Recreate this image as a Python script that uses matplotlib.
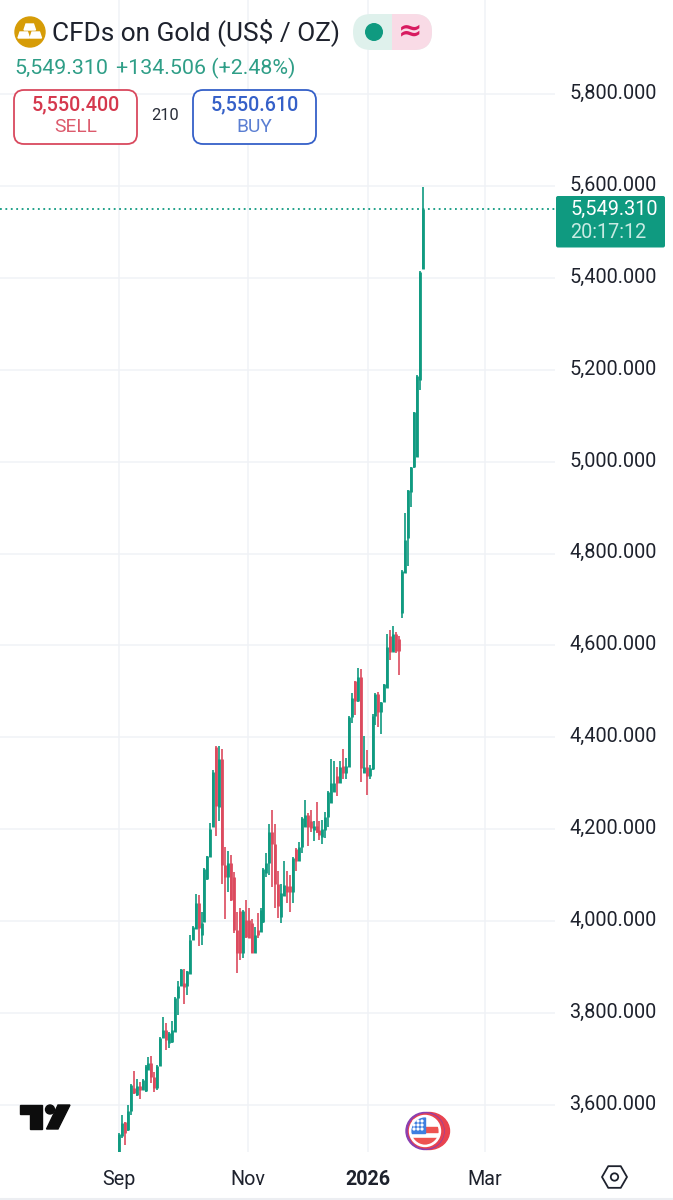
import matplotlib
matplotlib.use("Agg")
import matplotlib.pyplot as plt
from matplotlib.patches import Circle, Ellipse, FancyBboxPatch, Polygon, Rectangle
from matplotlib.transforms import ScaledTranslation
import numpy as np

plt.rcParams['font.family'] = ['Roboto', 'DejaVu Sans']

# daily candles, Sep 2025 onwards
opens = [3497, 3532, 3562, 3545, 3586, 3637, 3622, 3642, 3633, 3630,
         3677, 3691, 3662, 3637, 3684, 3746, 3764, 3735, 3738, 3758,
         3833, 3858, 3865, 3858, 3886, 3960, 3984, 4040, 3971, 3999,
         4092, 4140, 4206, 4380, 4249, 4354, 4122, 4097, 4126, 4097,
         3981, 4022, 3930, 4003, 4003, 3995, 3930, 3981, 3977, 3999,
         4104, 4126, 4195, 4169, 4082, 4010, 4055, 4077, 4077, 4064,
         4158, 4130, 4162, 4206, 4231, 4217, 4198, 4207, 4198, 4184,
         4198, 4227, 4258, 4282, 4316, 4301, 4337, 4322, 4336, 4445,
         4522, 4480, 4532, 4323, 4336, 4316, 4331, 4447, 4494, 4456,
         4478, 4507, 4620, 4586, 4626, 4615, 4670, 4757, 4833, 4935,
         4988, 5011, 5178, 5419]
highs = [3539, 3578, 3564, 3599, 3646, 3675, 3657, 3650, 3657, 3686,
         3704, 3707, 3671, 3686, 3748, 3791, 3778, 3758, 3782, 3834,
         3869, 3896, 3897, 3891, 3971, 3989, 4059, 4058, 4021, 4115,
         4142, 4214, 4329, 4381, 4381, 4374, 4161, 4153, 4144, 4108,
         4019, 4029, 4024, 4046, 4028, 4004, 3988, 4018, 4028, 4115,
         4148, 4211, 4243, 4211, 4109, 4082, 4132, 4110, 4100, 4139,
         4159, 4172, 4226, 4264, 4235, 4241, 4218, 4260, 4218, 4220,
         4237, 4284, 4352, 4349, 4335, 4349, 4374, 4355, 4447, 4497,
         4523, 4550, 4548, 4402, 4373, 4340, 4452, 4496, 4499, 4478,
         4516, 4626, 4634, 4642, 4630, 4621, 4764, 4888, 4938, 4989,
         5109, 5189, 5414, 5597]
lows = [3497, 3528, 3512, 3543, 3579, 3625, 3619, 3614, 3632, 3628,
        3677, 3648, 3628, 3633, 3684, 3746, 3719, 3724, 3736, 3758,
        3795, 3858, 3820, 3839, 3886, 3960, 3984, 3945, 3948, 3999,
        4090, 4140, 4206, 4185, 4219, 4082, 4004, 4064, 4043, 3974,
        3887, 3916, 3919, 3963, 3963, 3930, 3930, 3963, 3977, 3997,
        4097, 4100, 4075, 4028, 4006, 3997, 4055, 4039, 4021, 4040,
        4110, 4130, 4148, 4206, 4164, 4195, 4175, 4193, 4176, 4169,
        4182, 4204, 4258, 4282, 4272, 4300, 4309, 4309, 4336, 4431,
        4449, 4478, 4304, 4323, 4275, 4309, 4330, 4427, 4423, 4407,
        4478, 4507, 4568, 4587, 4583, 4536, 4659, 4757, 4772, 4902,
        4986, 5011, 5156, 5419]
closes = [3537, 3561, 3539, 3586, 3644, 3626, 3642, 3633, 3655, 3684,
          3691, 3662, 3637, 3684, 3746, 3764, 3742, 3757, 3764, 3833,
          3858, 3896, 3857, 3891, 3960, 3988, 4040, 3985, 3996, 4113,
          4141, 4200, 4325, 4250, 4354, 4122, 4097, 4126, 4046, 3981,
          3930, 3930, 4022, 3966, 3963, 3930, 3970, 3970, 4024, 4113,
          4126, 4195, 4169, 4082, 4032, 4061, 4079, 4064, 4064, 4137,
          4132, 4161, 4224, 4231, 4206, 4202, 4207, 4195, 4187, 4200,
          4227, 4282, 4300, 4300, 4301, 4336, 4322, 4337, 4445, 4485,
          4480, 4532, 4333, 4336, 4316, 4333, 4447, 4494, 4456, 4478,
          4516, 4596, 4586, 4626, 4588, 4587, 4763, 4830, 4938, 4988,
          5108, 5187, 5413, 5549.31]

price_ticks = [3600, 3800, 4000, 4200, 4400, 4600, 4800, 5000, 5200, 5400, 5600, 5800]
date_ticks = [0, 43.8, 84.5, 124.2]
date_labels = ['Sep', 'Nov', '2026', 'Mar']
last_price = 5549.31

GREEN = '#0f9a80'
RED = '#dc4a5e'
GRID = '#f0f2f6'
TEXT = '#1e222d'

fig = plt.figure(figsize=(6.73, 12), dpi=100, facecolor='white')

# main price pane, runs under the header
ax = fig.add_axes([0, 48 / 1200, 555 / 673, 1152 / 1200])
ax.set_xlim(-40.37, 147.9)
ax.set_ylim(3497.7, 6004.8)
for s in ax.spines.values():
    s.set_visible(False)
ax.set_yticks(price_ticks)
ax.set_yticklabels([f'{p:,.3f}' for p in price_ticks], fontsize=14.3, color=TEXT)
ax.yaxis.tick_right()
ax.set_xticks(date_ticks)
ax.set_xticklabels(date_labels, fontsize=14.2, color=TEXT)
ax.get_xticklabels()[2].set_fontweight('bold')
ax.tick_params(axis='both', length=0)
ax.tick_params(axis='y', pad=10.5)
ax.tick_params(axis='x', pad=13)
ax.grid(True, color=GRID, lw=1.1)
ax.set_axisbelow(True)
# labels sit a little above their grid lines
up = ScaledTranslation(0, 2 / 72, fig.dpi_scale_trans)
for lab in ax.get_yticklabels():
    lab.set_transform(lab.get_transform() + up)

idx = np.arange(len(opens))
o = np.array(opens)
c = np.array(closes)
col = [GREEN if b >= a else RED for a, b in zip(opens, closes)]
ax.vlines(idx, lows, highs, colors=col, lw=1.2, zorder=3)
ax.vlines(idx, np.minimum(o, c), np.maximum(o, c), colors=col, lw=2.0, zorder=4)

ax.axhline(last_price, color=GREEN, lw=1.3, ls=(0, (1, 2.0)), zorder=2)

# overlay in pixel coordinates for header, price tag and icons
ov = fig.add_axes([0, 0, 1, 1], facecolor='none')
ov.set_xlim(0, 673)
ov.set_ylim(1200, 0)
ov.axis('off')

# gold icon
ov.add_patch(Circle((30, 32), 15, color='#d69c07'))
ov.add_patch(Polygon([(26, 24), (33.5, 24), (35.5, 30), (24, 30)], color='white'))
ov.add_patch(Polygon([(20, 32), (27.5, 32), (29.5, 38), (18, 38)], color='white'))
ov.add_patch(Polygon([(32, 32), (39.5, 32), (41.5, 38), (30, 38)], color='white'))
ov.text(52, 32, 'CFDs on Gold (US$ / OZ)', fontsize=18.9, color=TEXT, va='center', ha='left')

# market status pill
ov.add_patch(FancyBboxPatch((353, 14), 79, 36, boxstyle='round,pad=0,rounding_size=18', lw=0, fc='#dff1ec', zorder=1))
right = FancyBboxPatch((353, 14), 79, 36, boxstyle='round,pad=0,rounding_size=18', lw=0, fc='#f9dbe6', zorder=2)
ov.add_patch(right)
right.set_clip_path(Rectangle((392, 0), 60, 60, transform=ov.transData))
ov.add_patch(Circle((374, 32), 8.3, color='#0f9a80', zorder=3))
ov.text(410, 31, '\u2248', fontsize=21, color='#d81b60', ha='center', va='center', zorder=3,
        family=['DejaVu Sans'], fontweight='bold')

ov.text(14, 68, '5,549.310', fontsize=15.4, color='#2f9e87', va='center', ha='left')
ov.text(116, 68, '+134.506 (+2.48%)', fontsize=15.4, color='#2f9e87', va='center', ha='left')

# sell and buy buttons
ov.add_patch(FancyBboxPatch((14, 90), 123, 54, boxstyle='round,pad=0,rounding_size=10',
                            lw=1.3, ec='#d9495e', fc='white'))
ov.text(75.5, 105, '5,550.400', fontsize=14.2, color='#d5384d', fontweight='medium', ha='center', va='center')
ov.text(75.5, 127, 'SELL', fontsize=13.8, color='#dc5a6c', ha='center', va='center')
ov.text(165, 116, '210', fontsize=11.9, color='#2a2e39', ha='center', va='center')
ov.add_patch(FancyBboxPatch((193, 90), 123, 54, boxstyle='round,pad=0,rounding_size=10',
                            lw=1.3, ec='#3560c8', fc='white'))
ov.text(254.5, 105, '5,550.610', fontsize=14.2, color='#3560c8', fontweight='medium', ha='center', va='center')
ov.text(254.5, 127, 'BUY', fontsize=13.8, color='#5a7ed2', ha='center', va='center')

# last price tag
ov.add_patch(FancyBboxPatch((556, 196), 109, 51.5, boxstyle='round,pad=0,rounding_size=2', lw=0, fc='#0f9a80'))
ov.text(570, 209, '5,549.310', fontsize=14.3, color='white', ha='left', va='center')
ov.text(570, 232, '20:17:12', fontsize=14.3, color='#c8ebe3', ha='left', va='center')

# tradingview logo
ov.add_patch(Polygon([(20, 1105), (42, 1105), (42, 1129), (30, 1129), (30, 1114), (20, 1114)], color='#0d0d0d'))
ov.add_patch(Circle((50, 1109.5), 4.5, color='#0d0d0d'))
ov.add_patch(Polygon([(58, 1105), (70, 1105), (58, 1129), (46.5, 1129)], color='#0d0d0d'))

# flag coin
ov.add_patch(Ellipse((429, 1131), 41, 37, color='#e8434f'))
ov.add_patch(Ellipse((425, 1131), 38, 37, color='#8a3fb0'))
ov.add_patch(Ellipse((426, 1131), 35, 34, color='#e8434f'))
ov.add_patch(Circle((425, 1131), 15.5, color='white'))
disc = Circle((425, 1131), 13.5, transform=ov.transData)
red_top = Rectangle((425, 1127), 14, 5, color='#ee5350')
red_low = Rectangle((411, 1138), 28, 6, color='#ee5350')
blue = Rectangle((411, 1117), 14, 16, color='#3f7fe0')
for p in (red_top, red_low, blue):
    ov.add_patch(p)
    p.set_clip_path(disc)
for dx in (414, 418, 422):
    for dy in (1121, 1125, 1129):
        ov.add_patch(Circle((dx, dy), 0.9, color='white'))

# settings hexagon
ang = np.deg2rad(np.arange(0, 360, 60))
ov.add_patch(Polygon(np.c_[614.5 + 12.5 * np.cos(ang), 1177 + 12.5 * np.sin(ang)], closed=True,
                     fill=False, ec=TEXT, lw=1.3, joinstyle='round'))
ov.add_patch(Circle((614.5, 1177), 3.7, fill=False, ec=TEXT, lw=1.3))

# bottom edge
ov.plot([0, 673], [1198.5, 1198.5], color='#eceef2', lw=1.5)

fig.savefig('out.png', dpi=100)
